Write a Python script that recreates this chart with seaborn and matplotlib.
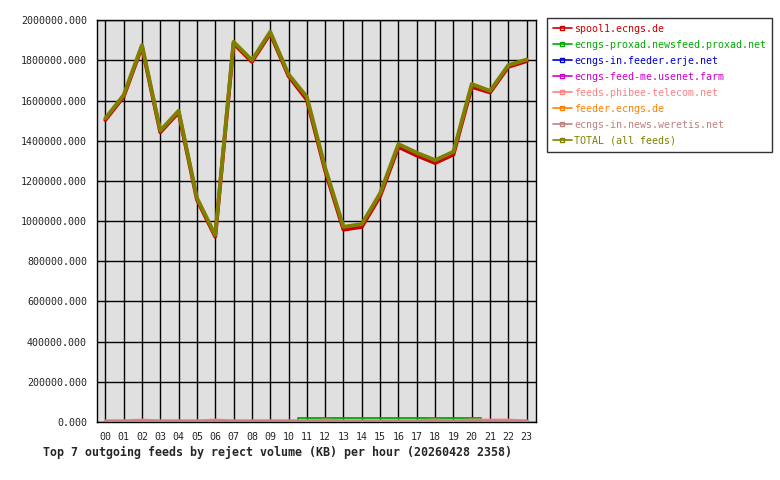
import numpy as np
import pandas as pd
import seaborn as sns
import matplotlib
matplotlib.use("Agg")
import matplotlib.pyplot as plt
from matplotlib.lines import Line2D
from matplotlib.ticker import FormatStrFormatter

""" 0. data read off the chart """
hours = list(range(24))
hour_labels = ["%02d" % h for h in hours]

feeds = ["spool1.ecngs.de", "ecngs-proxad.newsfeed.proxad.net", "ecngs-in.feeder.erje.net",
         "ecngs-feed-me.usenet.farm", "feeds.phibee-telecom.net", "feeder.ecngs.de",
         "ecngs-in.news.weretis.net", "TOTAL (all feeds)"]
colors = ["#cc0000", "#00aa00", "#0000cc", "#cc00cc", "#ff8080", "#ff8000", "#c08080", "#808000"]

spool1 = [1503000, 1619000, 1868000, 1442000, 1541000, 1107000, 922000, 1884000,
          1793000, 1934000, 1722000, 1604000, 1251000, 957000, 971000, 1124000,
          1369000, 1326000, 1289000, 1331000, 1668000, 1640000, 1768000, 1796000]
proxad = [0] * 11 + [18000] * 10 + [0] * 3
erje = [0] * 24
usenet_farm = [0] * 24
phibee = [5000, 5000, 9000, 5000, 5000, 5000, 9000, 5000, 5000, 5000, 5000, 5000,
          9000, 5000, 5000, 5000, 5000, 5000, 9000, 5000, 9000, 9000, 9000, 5000]
feeder = [0] * 24
weretis = [7000] * 24
total = [1511000, 1627000, 1876000, 1450000, 1549000, 1115000, 930000, 1892000,
         1801000, 1942000, 1730000, 1618000, 1265000, 971000, 985000, 1138000,
         1383000, 1340000, 1303000, 1345000, 1682000, 1648000, 1776000, 1804000]

series = [spool1, proxad, erje, usenet_farm, phibee, feeder, weretis, total]
widths = [2.8, 1.3, 1.0, 1.0, 2.2, 1.0, 2.5, 2.8]
draw_order = [2, 3, 5, 1, 4, 6, 0, 7]

df = pd.DataFrame({"hour": hours})
for name, vals in zip(feeds, series):
    df[name] = vals

""" 1. plot """
sns.set_style("white")
plt.rcParams['font.family'] = ['DejaVu Sans Mono']

fig = plt.figure(figsize=(7.8, 4.8), dpi=100)
ax = fig.add_axes([0.124, 0.121, 0.563, 0.837])
ax.set_facecolor("#e0e0e0")

for i in draw_order:
    sns.lineplot(x="hour", y=feeds[i], data=df, color=colors[i], linewidth=widths[i],
                 drawstyle="steps-mid" if i == 1 else "default",
                 ax=ax, legend=False, zorder=3 + draw_order.index(i))

ax.set_xlim(-0.47, 23.5)
ax.set_ylim(0, 2000000)
ax.set_xticks(hours)
ax.set_xticklabels(hour_labels)
ax.set_yticks(np.arange(0, 2000001, 200000))
ax.yaxis.set_major_formatter(FormatStrFormatter("%.3f"))
ax.grid(True, color="black", linewidth=1.0)
ax.set_axisbelow(True)
for s in ax.spines.values():
    s.set_color("black")
    s.set_linewidth(1.0)
ax.tick_params(axis="both", direction="out", length=4, width=1.0, color="black",
               labelsize=7.2, pad=3)
ax.set_xlabel("")
ax.set_ylabel("")

handles = [Line2D([0], [0], color=c, linewidth=1.2, marker="s", markersize=2.5,
                  markerfacecolor="none", markeredgecolor=c) for c in colors]
leg = fig.legend(handles, feeds, loc="upper left", bbox_to_anchor=(0.701, 0.963),
                 fontsize=7.2, frameon=True, fancybox=False, edgecolor="black",
                 handlelength=1.9, handletextpad=0.25, labelspacing=0.6,
                 borderpad=0.6, borderaxespad=0)
leg.get_frame().set_linewidth(1.0)
for txt, c in zip(leg.get_texts(), colors):
    txt.set_color(c)

fig.text(0.055, 0.058, "Top 7 outgoing feeds by reject volume (KB) per hour (20260428 2358)",
         fontsize=8.4, fontweight="bold", ha="left", va="center")

plt.savefig("out.png", dpi=100)
